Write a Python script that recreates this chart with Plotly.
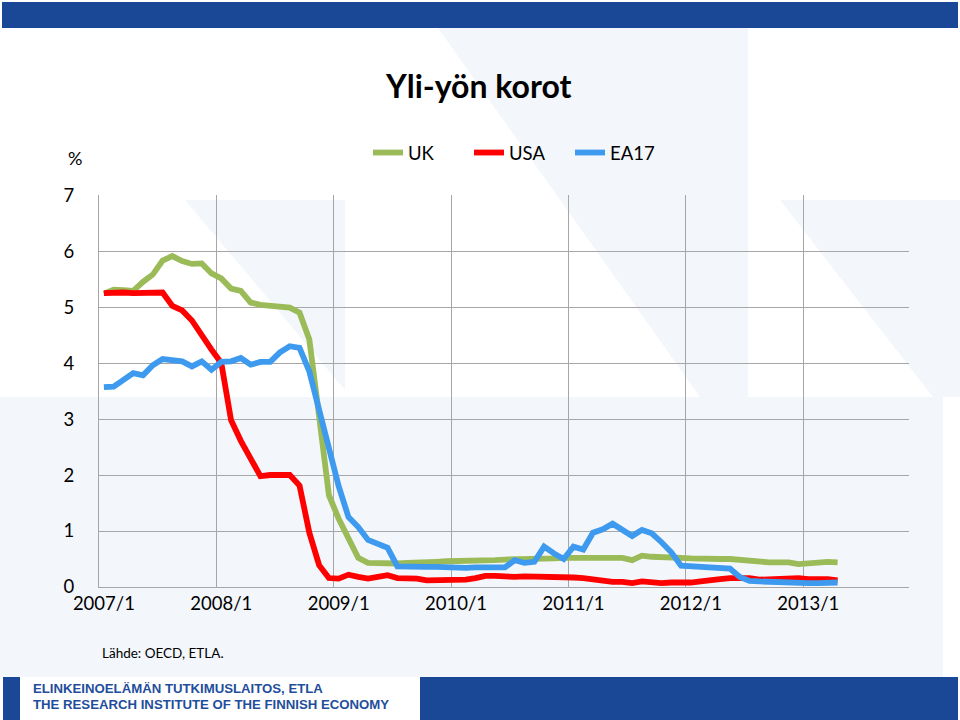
import plotly.graph_objects as go
import numpy as np

# ---------------- data ----------------
years = list(range(2007, 2014))
months = [f"{y}/{m}" for y in years for m in range(1, 13)][:76]   # 2007/1 .. 2013/4
tick_labels = [f"{y}/1" for y in years]

uk = [5.24, 5.31, 5.30, 5.29, 5.45, 5.58, 5.83, 5.91, 5.82, 5.77, 5.78, 5.60,
      5.51, 5.33, 5.29, 5.08, 5.04, 5.03, 5.01, 4.99, 4.90, 4.42, 3.05, 1.64,
      1.22, 0.85, 0.52, 0.43, 0.42, 0.42, 0.42, 0.43, 0.43, 0.44, 0.45, 0.46,
      0.46, 0.47, 0.47, 0.48, 0.48, 0.49, 0.49, 0.50, 0.50, 0.51, 0.51, 0.52,
      0.52, 0.52, 0.53, 0.53, 0.54, 0.52, 0.48, 0.56, 0.54, 0.54, 0.53, 0.52,
      0.51, 0.50, 0.50, 0.50, 0.50, 0.48, 0.46, 0.44, 0.44, 0.44, 0.44, 0.41,
      0.43, 0.44, 0.45, 0.44]

usa = [5.25, 5.26, 5.26, 5.25, 5.25, 5.25, 5.26, 5.02, 4.94, 4.76, 4.49, 4.24,
       4.00, 2.98, 2.61, 2.28, 1.98, 2.00, 2.01, 2.00, 1.81, 0.97, 0.39, 0.16,
       0.15, 0.22, 0.18, 0.15, 0.18, 0.21, 0.16, 0.16, 0.15, 0.12, 0.12, 0.12,
       0.11, 0.13, 0.16, 0.20, 0.20, 0.18, 0.18, 0.19, 0.19, 0.19, 0.19, 0.18,
       0.17, 0.16, 0.14, 0.10, 0.09, 0.09, 0.07, 0.10, 0.08, 0.07, 0.08, 0.07,
       0.08, 0.10, 0.13, 0.14, 0.16, 0.16, 0.16, 0.13, 0.14, 0.16, 0.16, 0.16,
       0.14, 0.15, 0.14, 0.12]

ea17 = [3.57, 3.58, 3.70, 3.82, 3.78, 3.96, 4.07, 4.06, 4.03, 3.94, 4.03, 3.88,
        4.02, 4.03, 4.09, 3.97, 4.02, 4.02, 4.19, 4.30, 4.27, 3.85, 3.15, 2.45,
        1.80, 1.25, 1.07, 0.84, 0.78, 0.70, 0.37, 0.36, 0.36, 0.36, 0.36, 0.35,
        0.35, 0.34, 0.35, 0.35, 0.34, 0.35, 0.48, 0.43, 0.45, 0.72, 0.60, 0.50,
        0.72, 0.67, 0.97, 1.03, 1.13, 1.02, 0.91, 1.02, 0.96, 0.80, 0.62, 0.38,
        0.37, 0.36, 0.35, 0.34, 0.33, 0.18, 0.11, 0.10, 0.09, 0.08, 0.08, 0.07,
        0.07, 0.07, 0.08, 0.08]

series_names = ["UK", "USA", "EA17"]
series_colors = ["#9BBB59", "#FF0000", "#3D9AEE"]

# ---------------- geometry helpers (page pixels -> paper) ----------------
L, R, T, B = 99.0, 909.0, 195.0, 587.0
W, H = R - L, B - T
def px(x):
    return (x - L) / W
def py(y):
    return (B - y) / H

x_idx = np.arange(len(months))

fig = go.Figure()
for name, vals, col in zip(series_names, [uk, usa, ea17], series_colors):
    fig.add_trace(go.Scatter(x=x_idx, y=vals, mode="lines", name=name,
                             line=dict(color=col, width=5.8),
                             hoverinfo="skip"))

# watermark (very light shapes)
wm = "#F3F6FA"
def poly(pts):
    d = "M " + " L ".join(f"{px(a):.4f},{py(b):.4f}" for a, b in pts) + " Z"
    return dict(type="path", path=d, xref="paper", yref="paper",
                fillcolor=wm, line=dict(width=0), layer="below")

shapes = [
    poly([(438, 28), (748, 28), (748, 397), (700, 397)]),
    poly([(0, 397), (943, 397), (943, 677), (0, 677)]),
    poly([(185, 200), (345, 200), (345, 390)]),
    poly([(780, 200), (960, 200), (960, 397), (933, 397)]),
]

# banners
band = "#1A4896"
def rect(x0, y0, x1, y1, col):
    return dict(type="rect", xref="paper", yref="paper",
                x0=px(x0), x1=px(x1), y0=py(y1), y1=py(y0),
                fillcolor=col, line=dict(width=0), layer="above")
shapes += [rect(2, 2, 958, 28, band), rect(3, 677, 20, 720, band),
           rect(420, 677, 958, 720, band)]

grid_col = "#A6A6A6"
fig.update_layout(
    width=960, height=720,
    margin=dict(l=L, r=960 - R, t=T, b=720 - B),
    paper_bgcolor="white", plot_bgcolor="rgba(0,0,0,0)",
    shapes=shapes,
    showlegend=True,
    legend=dict(orientation="h", xref="container", yref="container",
                x=368 / 960, y=1 - 153 / 720, xanchor="left", yanchor="middle",
                font=dict(family="Lato", size=18.5, color="#000"),
                entrywidth=56, bgcolor="rgba(0,0,0,0)"),
    font=dict(family="Lato", size=18, color="#000"),
)
fig.update_xaxes(range=[-0.5, 82.3],
                 tickmode="array", tickvals=[i * 12 for i in range(len(tick_labels))],
                 ticktext=tick_labels, showgrid=False, ticks="",
                 showline=True, linecolor=grid_col, linewidth=1.3,
                 tickfont=dict(family="Lato", size=18.5),
                 minor=dict(tickmode="array",
                            tickvals=[11.5 + 12 * k for k in range(6)],
                            showgrid=True, gridcolor=grid_col, gridwidth=1.3,
                            ticks=""),
                 zeroline=False)
fig.update_yaxes(range=[0, 7.001], tickmode="array", tickvals=list(range(8)),
                 showgrid=True, gridcolor=grid_col, gridwidth=1.3,
                 showline=True, linecolor=grid_col, linewidth=1.3,
                 ticks="", ticklabelstandoff=20,
                 tickfont=dict(family="Lato", size=18.5), zeroline=False)

annotations = [
    dict(text="<b>Yli-yön korot</b>", x=px(478), y=py(85), xref="paper", yref="paper",
         showarrow=False, font=dict(family="Lato", size=32, color="#000"),
         xanchor="center", yanchor="middle"),
    dict(text="%", x=px(66), y=py(158), xref="paper", yref="paper",
         showarrow=False, font=dict(family="Lato", size=18, color="#000"),
         xanchor="left", yanchor="middle"),
    dict(text="Lähde: OECD, ETLA.", x=px(100), y=py(653), xref="paper", yref="paper",
         showarrow=False, font=dict(family="Lato", size=13.5, color="#000"),
         xanchor="left", yanchor="middle"),
    dict(text="<b>ELINKEINOELÄMÄN TUTKIMUSLAITOS, ETLA</b>", x=px(31), y=py(688),
         xref="paper", yref="paper", showarrow=False,
         font=dict(family="Liberation Sans", size=13.2, color="#1F4E9C"),
         xanchor="left", yanchor="middle"),
    dict(text="<b>THE RESEARCH INSTITUTE OF THE FINNISH ECONOMY</b>", x=px(31), y=py(704),
         xref="paper", yref="paper", showarrow=False,
         font=dict(family="Liberation Sans", size=13.2, color="#1F4E9C"),
         xanchor="left", yanchor="middle"),
]
fig.update_layout(annotations=annotations)

fig.write_html("out.html")
